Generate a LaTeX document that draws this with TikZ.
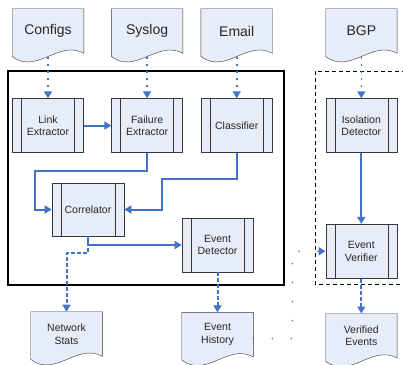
\documentclass[tikz,border=0pt]{standalone}
\usepackage{fontspec}
\setmainfont{Liberation Sans}
\usepackage{xcolor}
\usepackage{tikz}
\usetikzlibrary{arrows.meta}
\usetikzlibrary{calc}
\usetikzlibrary{positioning}
\usetikzlibrary{backgrounds}

\definecolor{boxfill}{RGB}{230,237,248}
\definecolor{boxline}{RGB}{55,55,55}
\definecolor{flowblue}{RGB}{68,114,196}

\begin{document}
\begin{tikzpicture}[x=1pt,y=-1pt,>={Triangle[length=7pt,width=8pt]}, semithick]
	\tikzstyle{doc}=[minimum width=71pt, minimum height=44pt, inner sep=0pt, align=center, text=black!85, font=\fontsize{10.5}{12.5}\selectfont]
	\tikzstyle{topdoc}=[doc, font=\fontsize{14}{16}\selectfont]
	\tikzstyle{proc}=[draw=boxline, fill=boxfill, minimum width=71pt, minimum height=54pt, inner sep=0pt, align=center, text=black!85, font=\fontsize{10.5}{12.5}\selectfont, path picture={
		\draw[boxline] ([xshift=9pt]path picture bounding box.north west) -- ([xshift=9pt]path picture bounding box.south west);
		\draw[boxline] ([xshift=-9pt]path picture bounding box.north east) -- ([xshift=-9pt]path picture bounding box.south east);}]
	\tikzstyle{flow}=[->, flowblue, line width=2pt]
	\tikzstyle{feed}=[->, flowblue, line width=1.6pt, dash pattern=on 1.6pt off 5.4pt, shorten <=4pt]
	\tikzstyle{store}=[->, flowblue, line width=2pt, dash pattern=on 4pt off 2pt]
	\tikzstyle{check}=[->, flowblue, line width=1.8pt, line cap=round, dash pattern=on 0pt off 19pt]
	\useasboundingbox (0,0) rectangle (403,364);

	% sources
	\node[topdoc] (cfg) at (48,31) {Configs};
	\node[topdoc] (sys) [right=27.5pt of cfg] {Syslog};
	\node[topdoc] (mail) [right=18pt of sys] {Email};
	\node[topdoc] (bgp) [right=53pt of mail] {BGP};

	% processing
	\node[proc] (link) [below=45pt of cfg] {Link\\Extractor};
	\node[proc] (fail) [below=45pt of sys] {Failure\\Extractor};
	\node[proc] (cls) [below=45pt of mail] {Classifier};
	\node[proc] (iso) [below=45pt of bgp] {Isolation\\Detector};
	\node[proc, minimum width=72pt, minimum height=53pt] (cor) at (88,209.5) {Correlator};
	\node[proc] (det) at (217.5,245) {Event\\Detector};
	\node[proc] (ver) [below=71pt of iso] {Event\\Verifier};

	% outputs
	\node[doc] (stats) at (66.5,334) {Network\\Stats};
	\node[doc] (hist) [below=40pt of det] {Event\\History};
	\node[doc] (verif) [below=35pt of ver] {Verified\\Events};

	\begin{pgfonlayer}{background}
		\foreach \d in {cfg,sys,mail,bgp,stats,hist,verif}
			\filldraw[fill=boxfill, draw=boxline] ($(\d.south west)+(0,3)$) -- (\d.north west) -- (\d.north east) -- (\d.south east)
				.. controls ($(\d.south east)+(-25,-14)$) and ($(\d.south west)+(24,22)$) .. ($(\d.south west)+(0,3)$) -- cycle;
		\draw[line width=1.1pt] (8,71) rectangle (284,285);
		\draw[line width=1pt, dash pattern=on 4pt off 3pt] (406,71) -- (315,71) -- (315,284) -- (406,284);
	\end{pgfonlayer}

	\draw[feed] (cfg.south) -- (link.north);
	\draw[feed] (sys.south) -- (fail.north);
	\draw[feed] (mail.south) -- (cls.north);
	\draw[feed] (bgp.south) -- (iso.north);

	\draw[flow] (link) -- (fail);
	\draw[flow] (fail.south) -- ++(0,18) -| ($(cor.west)+(-17,0)$) -- (cor.west);
	\draw[flow] (cls.south) -- ++(0,26) -| ($(cor.east)+(38,0)$) -- (cor.east);
	\draw[store] (cor.south) -- ++(0,17) -| (stats.north);
	\draw[flow] (cor.south) |- (det.west);
	\draw[store] (det.south) -- (hist.north);
	\draw[flow] (iso) -- (ver);
	\draw[store] (ver) -- (verif);
	\draw[check] ($(hist.east)+(0,4)$) -- ++(39,0) |- (ver.west);
\end{tikzpicture}
\end{document}
